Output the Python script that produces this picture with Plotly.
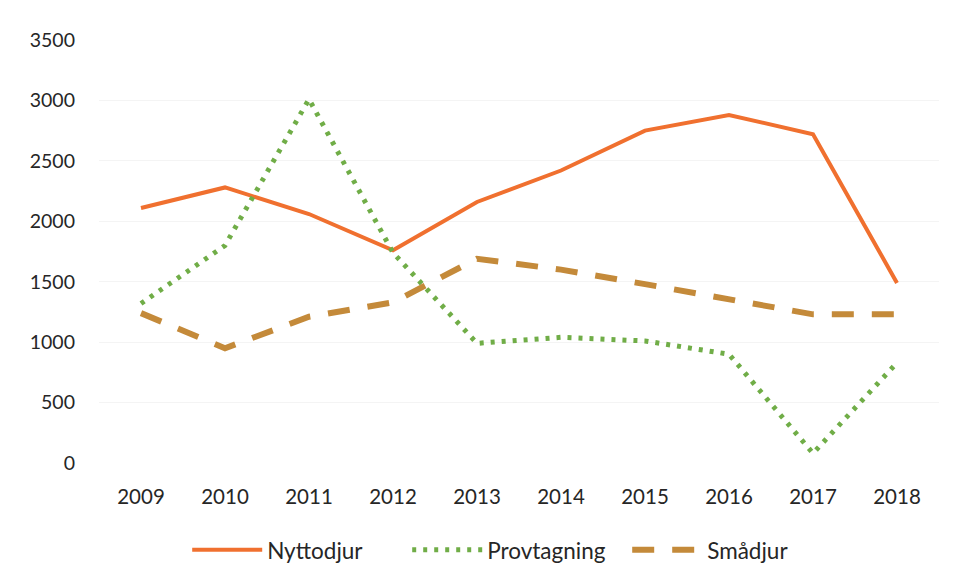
import plotly.graph_objects as go

years = ["2009", "2010", "2011", "2012", "2013", "2014", "2015", "2016", "2017", "2018"]
nyttodjur = [2110, 2280, 2060, 1760, 2160, 2420, 2750, 2880, 2720, 1490]
provtagning = [1320, 1800, 3010, 1740, 990, 1040, 1010, 900, 80, 830]
smadjur = [1240, 950, 1210, 1330, 1690, 1600, 1480, 1360, 1230, 1230]
yticks = [0, 500, 1000, 1500, 2000, 2500, 3000, 3500]

font_family = "Lato, 'Open Sans', sans-serif"

fig = go.Figure()
fig.add_trace(go.Scatter(x=years, y=nyttodjur, mode="lines", name="Nyttodjur",
                         line=dict(color="#F0702F", width=4)))
fig.add_trace(go.Scatter(x=years, y=provtagning, mode="lines", name="Provtagning",
                         line=dict(color="#70AD47", width=5, dash="4px,7px")))
fig.add_trace(go.Scatter(x=years, y=smadjur, mode="lines", name="Smådjur",
                         line=dict(color="#C48A3A", width=6, dash="22px,18px")))

fig.update_layout(
    width=956, height=582,
    paper_bgcolor="white", plot_bgcolor="white",
    margin=dict(l=91, r=25, t=32, b=127),
    font=dict(family=font_family, size=20, color="#262626"),
    showlegend=True,
    legend=dict(orientation="h", x=0.105, xanchor="left", y=-0.206, yanchor="middle",
                font=dict(size=22.5, color="#262626"), itemwidth=70,
                entrywidth=135, entrywidthmode="pixels",
                traceorder="normal"),
)
fig.update_xaxes(type="category", range=[-0.5, 9.5], showgrid=False, showline=False,
                 zeroline=False, ticks="", ticklabelstandoff=19, tickfont=dict(size=20.5))
fig.update_yaxes(range=[0, 3500], tickvals=yticks, showgrid=True,
                 gridcolor="#F4F4F4", gridwidth=1, zeroline=False, showline=False,
                 ticks="", ticklabelstandoff=23, tickfont=dict(size=19.5))

fig.write_html("out.html")
